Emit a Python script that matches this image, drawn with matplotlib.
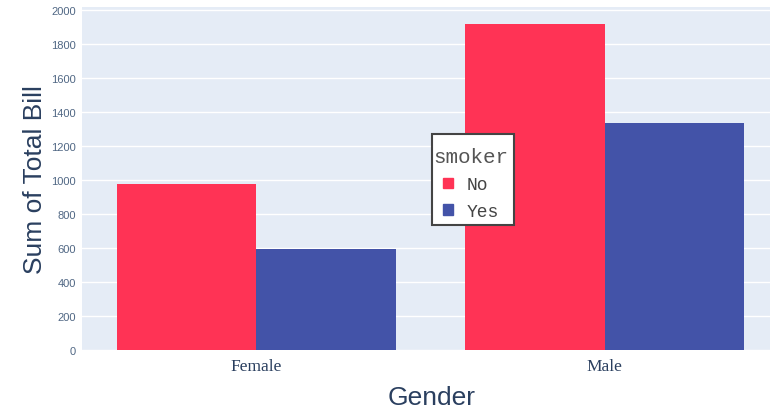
"""Sum of total bill by gender, split by smoker (grouped bars)."""

import matplotlib

matplotlib.use("Agg")
import matplotlib.pyplot as plt
from matplotlib.patches import Patch, Rectangle

genders = ["Female", "Male"]
smoker_groups = ["No", "Yes"]
total_no = [977.68, 1919.75]
total_yes = [593.27, 1337.07]
y_ticks = [0, 200, 400, 600, 800, 1000, 1200, 1400, 1600, 1800, 2000]

RED = "#ff3355"
BLUE = "#4353a8"
PLOT_BG = "#e5ecf6"
TEXT = "#2a3f5f"
TICK = "#506784"

fig = plt.figure(figsize=(7.7, 4.1), dpi=100)
ax = fig.add_axes([0.106, 0.144, 0.906, 0.8376])
ax.set_facecolor(PLOT_BG)

x = range(len(genders))
bar_width = 0.4
ax.bar([i - bar_width / 2 for i in x], total_no, width=bar_width,
       color=RED, zorder=3)
ax.bar([i + bar_width / 2 for i in x], total_yes, width=bar_width,
       color=BLUE, zorder=3)

ax.set_xlim(-0.5, 1.5)
ax.set_ylim(0, 2020)
ax.set_yticks(y_ticks)
ax.set_xticks(list(x))
ax.set_xticklabels(genders, family="Liberation Serif", fontsize=12.5,
                   color=TEXT)
for label in ax.get_yticklabels():
    label.set_family("Liberation Sans")
    label.set_fontsize(8)
    label.set_color(TICK)
ax.tick_params(axis="y", length=0, pad=4)
ax.tick_params(axis="x", length=0, pad=6)
ax.grid(axis="y", color="white", linewidth=1, zorder=0)
for spine in ax.spines.values():
    spine.set_visible(False)

ax.set_ylabel("Sum of Total Bill", family="Liberation Sans", fontsize=19,
              color=TEXT)
ax.yaxis.set_label_coords(-0.05, 0.5)
ax.set_xlabel("Gender", family="Liberation Sans", fontsize=19, color=TEXT)
ax.xaxis.set_label_coords(0.502, -0.103)

# legend box: plotly draws more room above/below than at the sides,
# so the frame is a separate rectangle behind a frameless legend
box = Rectangle((0.561, 0.449), 0.1065, 0.222, transform=fig.transFigure,
                facecolor="white", edgecolor="#444444", linewidth=1.5,
                zorder=4)
fig.patches.append(box)

handles = [Patch(facecolor=RED, edgecolor=RED),
           Patch(facecolor=BLUE, edgecolor=BLUE)]
legend = fig.legend(handles, smoker_groups, title="smoker",
                    loc="upper left", bbox_to_anchor=(0.563, 0.638),
                    frameon=False,
                    prop={"family": "Liberation Mono", "size": 13},
                    title_fontproperties={"family": "Liberation Mono",
                                          "size": 15},
                    handlelength=0.55, handleheight=0.55, handletextpad=0.75,
                    labelspacing=0.55, borderpad=0, borderaxespad=0)
legend.set_zorder(5)
legend.get_title().set_color("#555555")
for text in legend.get_texts():
    text.set_color("#444444")

fig.savefig("out.png", dpi=100)
